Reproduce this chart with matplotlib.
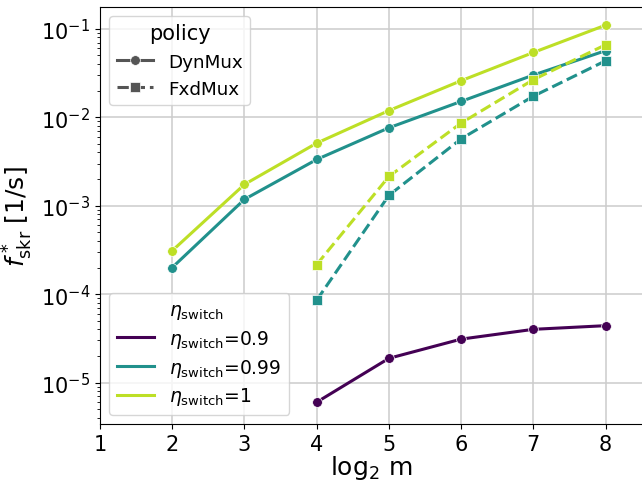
import matplotlib
matplotlib.use("Agg")
import matplotlib.pyplot as plt
from matplotlib.lines import Line2D
import numpy as np

x_dyn = [2, 3, 4, 5, 6, 7, 8]
dyn_eta1 = [3.1e-4, 1.74e-3, 5.1e-3, 0.0119, 0.0259, 0.054, 0.110]
dyn_eta099 = [2.0e-4, 1.18e-3, 3.33e-3, 7.6e-3, 0.0151, 0.030, 0.0566]
x_09 = [4, 5, 6, 7, 8]
dyn_eta09 = [6.0e-6, 1.88e-5, 3.1e-5, 4.0e-5, 4.4e-5]
x_fxd = [4, 5, 6, 7, 8]
fxd_eta1 = [2.16e-4, 2.14e-3, 8.6e-3, 0.0266, 0.066]
fxd_eta099 = [8.55e-5, 1.31e-3, 5.7e-3, 0.0173, 0.0435]

c09, c099, c1 = "#440154", "#21918c", "#bddf26"

fig = plt.figure(figsize=(6.42, 4.81), dpi=100)
ax = fig.add_axes([0.1558, 0.1164, 0.8442 - 0.0005, 0.8672])

kw = dict(lw=2.2, ms=7, mec="white", mew=0.5)
dash = (0, (3.7, 1.6))
ax.plot(x_09, dyn_eta09, color=c09, marker="o", **kw)
ax.plot(x_dyn, dyn_eta099, color=c099, marker="o", **kw)
ax.plot(x_dyn, dyn_eta1, color=c1, marker="o", **kw)
ax.plot(x_fxd, fxd_eta099, color=c099, marker="s", ls=dash, **kw)
ax.plot(x_fxd, fxd_eta1, color=c1, marker="s", ls=dash, **kw)

ax.set_yscale("log")
ax.set_xlim(1, 8.5)
ax.set_ylim(3.4e-6, 0.177)
ax.set_xticks([1, 2, 3, 4, 5, 6, 7, 8])
ax.grid(True, which="major", color="#cccccc", lw=1.1)
ax.tick_params(labelsize=15)
ax.set_axisbelow(True)
ax.spines["right"].set_visible(False)
ax.set_xlabel(r"$\log_2\,\mathrm{m}$", fontsize=18, labelpad=-0.5)
ax.set_ylabel(r"$f^*_{\mathrm{skr}}$ [1/s]", fontsize=18)

h_pol = [Line2D([], [], color="#555555", marker="o", **kw),
         Line2D([], [], color="#555555", marker="s", ls=dash, **kw)]
leg1 = ax.legend(h_pol, ["DynMux", "FxdMux"], title="policy", loc="upper left",
                 bbox_to_anchor=(0.0, 1.0), fontsize=13.2, title_fontsize=15,
                 handlelength=2.0, borderaxespad=0.5)
ax.add_artist(leg1)

h_eta = [Line2D([], [], color="none"),
         Line2D([], [], color=c09, lw=2.2),
         Line2D([], [], color=c099, lw=2.2),
         Line2D([], [], color=c1, lw=2.2)]
lab_eta = [r"$\eta_{\mathrm{switch}}$", r"$\eta_{\mathrm{switch}}$=0.9",
           r"$\eta_{\mathrm{switch}}$=0.99", r"$\eta_{\mathrm{switch}}$=1"]
ax.legend(h_eta, lab_eta, loc="lower left", fontsize=13.5, handlelength=2.0,
          labelspacing=0.35, borderaxespad=0.5)

fig.savefig("out.png", dpi=100)
